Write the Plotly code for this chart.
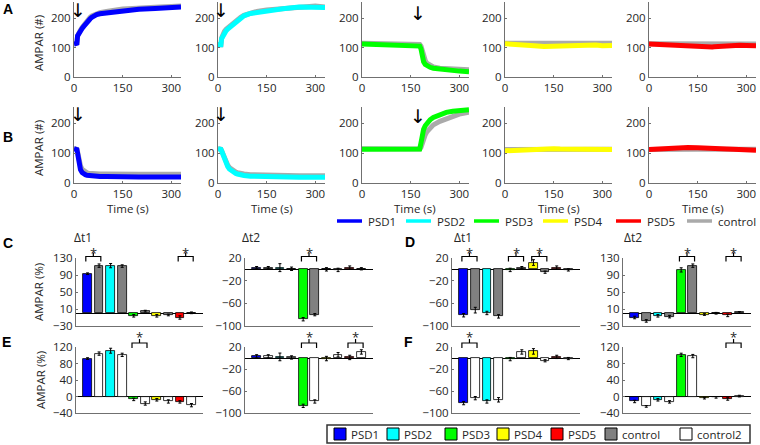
import plotly.graph_objects as go

W, H = 760, 445

# ---------------- data ----------------
# time grids (s)
t_early = [0, 5, 9, 11, 15, 20, 25, 30, 35, 40, 45, 50, 55, 60, 70, 80, 100, 120, 150, 180, 200, 250, 300, 330]
t_late = [0, 30, 60, 90, 120, 150, 170, 178, 182, 186, 190, 195, 200, 210, 220, 240, 260, 280, 300, 330]

# Row A (AMPAR #)
A_psd1 = [112, 113, 115, 140, 150, 158, 165, 172, 180, 188, 193, 198, 203, 207, 212, 215, 218, 221, 225, 228, 230, 233, 236, 238]
A_ctrl1 = [112, 113, 115, 140, 152, 160, 168, 176, 184, 192, 198, 203, 208, 211, 216, 219, 223, 227, 231, 233, 235, 237, 240, 241]
A_psd2 = [110, 110, 110, 130, 140, 150, 157, 163, 168, 172, 176, 180, 185, 190, 200, 208, 216, 220, 226, 230, 232, 238, 239, 236]
A_ctrl2 = [110, 110, 110, 132, 145, 155, 162, 167, 172, 177, 181, 185, 190, 195, 203, 210, 218, 223, 228, 231, 234, 240, 241, 238]
A_psd3 = [112, 111, 110, 109, 108, 107, 106, 105, 95, 70, 52, 43, 38, 33, 30, 27, 24, 22, 20, 18]
A_ctrl3 = [115, 114, 114, 113, 113, 112, 112, 111, 105, 88, 70, 56, 47, 39, 34, 30, 28, 27, 26, 25]
A_psd4 = [113, 112, 108, 106, 104, 105, 106, 106, 106, 107, 107, 107, 108, 108, 109, 110, 110, 109, 106, 107]
A_ctrl4 = [115, 115, 114, 114, 113, 113, 113, 113, 113, 113, 113, 113, 113, 114, 114, 114, 115, 115, 115, 115]
A_psd5 = [112, 110, 107, 106, 105, 102, 100, 100, 100, 101, 101, 102, 103, 104, 105, 106, 107, 108, 107, 106]
A_ctrl5 = [113, 113, 112, 112, 112, 111, 111, 111, 111, 111, 111, 111, 112, 112, 112, 112, 112, 112, 112, 112]

# Row B (AMPAR #)
B_psd1 = [115, 115, 112, 100, 70, 45, 35, 30, 28, 26, 25, 24, 24, 23, 23, 22, 22, 21, 21, 20, 20, 20, 20, 20]
B_ctrl1 = [115, 115, 113, 105, 80, 58, 46, 40, 36, 34, 33, 32, 31, 31, 30, 30, 30, 29, 29, 29, 29, 29, 29, 29]
B_psd2 = [115, 115, 113, 108, 95, 78, 65, 55, 47, 42, 38, 35, 32, 30, 27, 25, 23, 22, 21, 20, 20, 19, 19, 19]
B_ctrl2 = [115, 115, 113, 109, 97, 82, 70, 60, 52, 47, 43, 40, 37, 35, 32, 30, 28, 27, 26, 25, 25, 24, 24, 24]
B_psd3 = [113, 113, 112, 112, 113, 113, 113, 114, 135, 165, 180, 192, 200, 212, 220, 230, 237, 241, 244, 246]
B_ctrl3 = [115, 114, 114, 113, 114, 114, 114, 114, 120, 135, 150, 162, 172, 185, 195, 207, 216, 224, 231, 238]
B_psd4 = [108, 110, 112, 113, 114, 115, 114, 114, 113, 113, 113, 113, 113, 112, 112, 112, 112, 113, 112, 112]
B_ctrl4 = [112, 112, 113, 113, 113, 113, 113, 113, 113, 113, 113, 113, 113, 113, 113, 113, 113, 113, 113, 113]
B_psd5 = [112, 114, 117, 118, 119, 118, 118, 117, 117, 117, 117, 117, 116, 116, 115, 114, 113, 112, 111, 110]
B_ctrl5 = [112, 113, 113, 113, 113, 113, 113, 113, 113, 113, 113, 113, 113, 113, 113, 113, 113, 113, 113, 113]

line_names = ["PSD1", "PSD2", "PSD3", "PSD4", "PSD5", "control"]
bar_names = ["PSD1", "PSD2", "PSD3", "PSD4", "PSD5", "control", "control2"]

# bar order: PSD1, ctrl, PSD2, ctrl, PSD3, ctrl, PSD4, ctrl, PSD5, ctrl  (AMPAR %)
C_dt1 = [93, 112, 112, 111, -6, 5, -6, -4, -10, 1]
C_dt1_err = [2, 4, 5, 3, 3, 2, 3, 2, 4, 2]
C_dt2 = [3, 3, 3, 1, -88, -80, 0, -1, 3, 1]
C_dt2_err = [2, 2, 7, 3, 3, 2, 3, 3, 3, 2]
D_dt1 = [-81, -72, -77, -83, -1, 3, 12, -5, 3, -1]
D_dt1_err = [3, 5, 3, 3, 3, 2, 5, 2, 3, 2]
D_dt2 = [-10, -18, -6, -8, 102, 112, -3, 0, -5, 2]
D_dt2_err = [3, 3, 3, 3, 5, 4, 2, 2, 3, 2]
E_dt1 = [92, 104, 111, 101, -7, -17, -8, -12, -13, -21]
E_dt1_err = [2, 4, 6, 4, 3, 4, 3, 4, 3, 4]
E_dt2 = [3, 3, 2, 1, -87, -79, -1, 6, 1, 11]
E_dt2_err = [3, 3, 7, 3, 3, 3, 4, 4, 4, 4]
F_dt1 = [-82, -73, -79, -76, -2, 11, 12, -5, 2, -1]
F_dt1_err = [3, 3, 3, 4, 3, 4, 5, 2, 3, 2]
F_dt2 = [-12, -24, -8, -13, 101, 98, -4, -2, -6, 1]
F_dt2_err = [3, 2, 3, 3, 4, 4, 2, 2, 3, 2]

# significance brackets: first bar index of each starred pair
C_dt1_sig = [1, 9]
C_dt2_sig = [5]
D_dt1_sig = [1, 5, 7]
D_dt2_sig = [5, 9]
E_dt1_sig = [5]
E_dt2_sig = [5, 9]
F_dt1_sig = [1]
F_dt2_sig = [9]

# ---------------- style ----------------
BLUE, CYAN, GREEN, YELLOW, RED = "#0000FF", "#00FFFF", "#00FF00", "#FFFF00", "#FF0000"
GRAY_LINE, GRAY_BAR, WHITE = "#AAAAAA", "#808080", "#FFFFFF"
PSD_COLORS = [BLUE, CYAN, GREEN, YELLOW, RED]
AXC = "#707070"
TXT = "#262626"
FONT = "Open Sans"
TICKF = dict(family=FONT, size=11.5, color=TXT)

fig = go.Figure()
annotations = []
shapes = []


def ids(i):
    return ("x" if i == 1 else "x%d" % i), ("y" if i == 1 else "y%d" % i)


def set_axes(i, xpx, ypx, xr, yr, xt, yt, xlab=True, zero=False):
    xa, ya = ids(i)
    xn = "xaxis" if i == 1 else "xaxis%d" % i
    yn = "yaxis" if i == 1 else "yaxis%d" % i
    common = dict(showline=True, linecolor=AXC, linewidth=1, showgrid=False, automargin=False,
                  ticks="inside", ticklen=2, tickcolor=AXC, tickfont=TICKF, fixedrange=True)
    fig.update_layout({
        xn: dict(domain=[xpx[0] / W, xpx[1] / W], range=xr, anchor=ya, tickvals=xt,
                 showticklabels=xlab, zeroline=False, **common),
        yn: dict(domain=[1 - ypx[1] / H, 1 - ypx[0] / H], range=yr, anchor=xa, tickvals=yt,
                 zeroline=zero, zerolinecolor="black", zerolinewidth=1, **common),
    })


# ---------------- line panels ----------------
line_x = [(74, 181), (218, 325), (362, 469), (505, 612), (649, 756)]
rows = [
    ((2, 77), [(t_early, A_psd1, A_ctrl1), (t_early, A_psd2, A_ctrl2), (t_late, A_psd3, A_ctrl3),
               (t_late, A_psd4, A_ctrl4), (t_late, A_psd5, A_ctrl5)]),
    ((107, 183), [(t_early, B_psd1, B_ctrl1), (t_early, B_psd2, B_ctrl2), (t_late, B_psd3, B_ctrl3),
                  (t_late, B_psd4, B_ctrl4), (t_late, B_psd5, B_ctrl5)]),
]
idx = 0
for r, (ypx, panels) in enumerate(rows):
    for c, (tt, yv, yc) in enumerate(panels):
        idx += 1
        xa, ya = ids(idx)
        set_axes(idx, line_x[c], ypx, [0, 330], [0, 255], [0, 150, 300], [0, 100, 200])
        fig.add_trace(go.Scatter(x=tt, y=yc, mode="lines", line=dict(color=GRAY_LINE, width=5),
                                 xaxis=xa, yaxis=ya, showlegend=False))
        fig.add_trace(go.Scatter(x=tt, y=yv, mode="lines", line=dict(color=PSD_COLORS[c], width=5),
                                 xaxis=xa, yaxis=ya, showlegend=False))

# stimulus arrows (panel index, time, AMPAR level of arrow centre)
arrows = [(1, 12, 229), (2, 9, 229), (3, 172, 219), (6, 12, 230), (7, 9, 230), (8, 172, 225)]
for (i, tx, yy) in arrows:
    xa, ya = ids(i)
    annotations.append(dict(x=tx, y=yy, xref=xa, yref=ya, text="↓", showarrow=False,
                            font=dict(family="DejaVu Sans", size=19, color="black"),
                            xanchor="center", yanchor="middle"))

# ---------------- bar panels ----------------
ctrl_gray = [PSD_COLORS[k // 2] if k % 2 == 0 else GRAY_BAR for k in range(10)]
ctrl_white = [PSD_COLORS[k // 2] if k % 2 == 0 else WHITE for k in range(10)]
bar_x = list(range(1, 11))
bar_panels = [
    # idx, xpx, ypx, yrange, yticks, values, errs, colors, sig, row
    (11, (76, 203), (258, 326), [-30, 130], [-30, 10, 50, 90, 130], C_dt1, C_dt1_err, ctrl_gray, C_dt1_sig, 0),
    (12, (245, 373), (258, 326), [-100, 20], [-100, -60, -20, 20], C_dt2, C_dt2_err, ctrl_gray, C_dt2_sig, 0),
    (13, (452, 580), (258, 326), [-100, 20], [-100, -60, -20, 20], D_dt1, D_dt1_err, ctrl_gray, D_dt1_sig, 0),
    (14, (623, 751), (258, 326), [-30, 130], [-30, 10, 50, 90, 130], D_dt2, D_dt2_err, ctrl_gray, D_dt2_sig, 0),
    (15, (76, 203), (347, 413), [-40, 120], [-40, 0, 40, 80, 120], E_dt1, E_dt1_err, ctrl_white, E_dt1_sig, 1),
    (16, (245, 373), (347, 413), [-100, 20], [-100, -60, -20, 20], E_dt2, E_dt2_err, ctrl_white, E_dt2_sig, 1),
    (17, (452, 580), (347, 413), [-100, 20], [-100, -60, -20, 20], F_dt1, F_dt1_err, ctrl_white, F_dt1_sig, 1),
    (18, (623, 751), (347, 413), [-40, 120], [-40, 0, 40, 80, 120], F_dt2, F_dt2_err, ctrl_white, F_dt2_sig, 1),
]
# bracket offsets in px above axis top: (line, ends, mid, star-box centre) per row
br_off = [(1.5, -3.5, 5.5, 5.5), (4.0, -1.0, 8.0, 10.5)]
for (i, xpx, ypx, yr, yt, vals, errs, cols, sig, row) in bar_panels:
    xa, ya = ids(i)
    set_axes(i, xpx, ypx, [0, 11], yr, [], yt, xlab=False, zero=True)
    fig.add_trace(go.Bar(x=bar_x, y=vals, width=0.75,
                         marker=dict(color=cols, line=dict(color="black", width=0.8)),
                         error_y=dict(type="data", array=errs, color="black", thickness=1, width=1.5),
                         xaxis=xa, yaxis=ya, showlegend=False))
    hpx = ypx[1] - ypx[0]
    ol, oe, om, os_ = [1 + o / hpx for o in br_off[row]]
    for b in sig:
        x0, x1 = b - 0.15, b + 1.15
        xm = (x0 + x1) / 2
        path = "M %g,%g L %g,%g L %g,%g L %g,%g M %g,%g L %g,%g" % (
            x0, oe, x0, ol, x1, ol, x1, oe, xm, ol, xm, om)
        shapes.append(dict(type="path", path=path, xref=xa, yref=ya + " domain",
                           line=dict(color="black", width=1.2)))
        annotations.append(dict(x=xm, y=os_, xref=xa, yref=ya + " domain", text="*", showarrow=False,
                                font=dict(family=FONT, size=13, color=TXT), xanchor="center", yanchor="middle"))


# ---------------- text labels ----------------
def ptxt(x, y, text, size=11.5, bold=False, angle=0, family=FONT, xanchor="center"):
    annotations.append(dict(x=x / W, y=1 - y / H, xref="paper", yref="paper", text=("<b>%s</b>" % text) if bold else text,
                            showarrow=False, textangle=angle, xanchor=xanchor, yanchor="middle",
                            font=dict(family=family, size=size, color="black" if bold else TXT)))


for (lx, ly, lt) in [(8, 9, "A"), (8, 137, "B"), (8, 243, "C"), (410, 242, "D"), (7, 342, "E"), (409, 342, "F")]:
    ptxt(lx, ly, lt, size=14, bold=True, family="Liberation Sans")
ptxt(38, 43, "AMPAR (#)", angle=-90)
ptxt(38, 148, "AMPAR (#)", angle=-90)
ptxt(38, 292, "AMPAR (%)", angle=-90)
ptxt(40, 380, "AMPAR (%)", angle=-90)
for (a, b) in line_x:
    ptxt((a + b) / 2, 208, "Time (s)")
for (cx, tt) in [(83, "Δt1"), (251, "Δt2"), (463, "Δt1"), (633, "Δt2")]:
    ptxt(cx, 237, tt, size=12)

# ---------------- line legend (row under B) ----------------
leg_line_x = [337, 406, 474, 543, 616, 687]
for k, nm in enumerate(line_names):
    col = (PSD_COLORS + [GRAY_LINE])[k]
    x0 = leg_line_x[k]
    shapes.append(dict(type="line", xref="paper", yref="paper", x0=x0 / W, x1=(x0 + 25) / W,
                       y0=1 - 221 / H, y1=1 - 221 / H, line=dict(color=col, width=3.5)))
    ptxt(x0 + 29, 221, nm, size=11.5, xanchor="left")

# ---------------- bar legend (boxed, bottom) ----------------
shapes.append(dict(type="rect", xref="paper", yref="paper", x0=327 / W, x1=750 / W,
                   y0=1 - 443 / H, y1=1 - 425 / H, line=dict(color="#333333", width=1.5), fillcolor="white"))
leg_sq_x = [334, 387, 445, 497, 551, 605, 680]
for k, nm in enumerate(bar_names):
    col = (PSD_COLORS + [GRAY_BAR, WHITE])[k]
    x0 = leg_sq_x[k]
    shapes.append(dict(type="rect", xref="paper", yref="paper", x0=x0 / W, x1=(x0 + 12) / W,
                       y0=1 - 440 / H, y1=1 - 428 / H, line=dict(color="black", width=1), fillcolor=col))
    ptxt(x0 + 15, 434, nm, size=11.5, xanchor="left")

fig.update_layout(width=W, height=H, margin=dict(l=0, r=0, t=0, b=0),
                  paper_bgcolor="white", plot_bgcolor="rgba(0,0,0,0)",
                  showlegend=False, bargap=0, annotations=annotations, shapes=shapes,
                  font=dict(family=FONT, color=TXT))
fig.write_html("out.html", config={"displayModeBar": False},
               post_script="document.body.style.margin='0px';document.body.style.padding='0px';")
